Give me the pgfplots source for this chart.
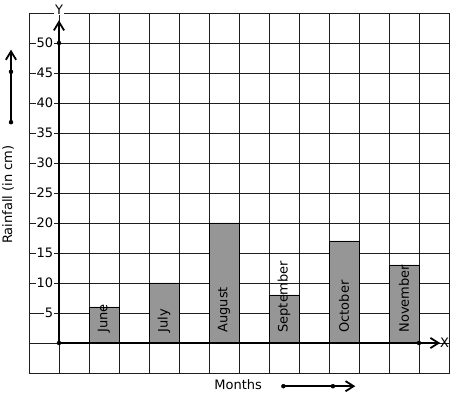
\documentclass[border=0pt]{standalone}
\usepackage{pgfplots}
\pgfplotsset{compat=1.18}
\usepackage{fontspec}
\setmainfont{DejaVu Sans}
\definecolor{bargray}{RGB}{150,150,150}
\definecolor{gridc}{RGB}{30,30,30}
\begin{document}
\begin{tikzpicture}
\useasboundingbox (0,0) rectangle (457bp,399bp);
\begin{axis}[
  at={(29bp,26bp)}, anchor=south west,
  x=30bp, y=6bp,
  xmin=-1, xmax=13, ymin=-5, ymax=55,
  xtick={-1,0,...,13}, ytick={-5,0,...,55},
  xticklabels={}, yticklabels={},
  major tick length=0pt,
  grid=major,
  grid style={draw=gridc, line width=0.9bp},
  axis line style={draw=gridc, line width=0.9bp},
  clip=false,
  font=\fontsize{13bp}{15bp}\selectfont,
]
\addplot[ybar, bar width=1, fill=bargray, draw=black, line width=0.9bp]
  coordinates {(1.5,6) (3.5,10) (5.5,20) (7.5,8) (9.5,17) (11.5,13)};
\addplot[only marks, mark=none, nodes near coords, point meta=explicit symbolic,
  every node near coord/.append style={rotate=90, anchor=west, inner sep=0pt, font=\fontsize{13bp}{15bp}\selectfont}]
  coordinates {(1.5,1.7)[June] (3.5,1.7)[July] (5.5,1.7)[August] (7.5,1.7)[September] (9.5,1.7)[October] (11.5,1.7)[November]};
\pgfplotsinvokeforeach{5,10,...,50}{
  \node[anchor=east, fill=white, inner sep=0.5bp, font=\fontsize{13bp}{15bp}\selectfont] at (axis cs:-0.17,#1) {#1};
}
\node[fill=white, inner sep=1bp] at (axis cs:0,55.6) {Y};
% y axis with arrowhead
\draw[line width=2.2bp] (axis cs:0,0) -- (axis cs:0,53.3);
\draw[line width=1.8bp, line join=miter] (axis cs:-0.17,52.1) -- (axis cs:0,53.5) -- (axis cs:0.17,52.1);
% x axis with arrowhead
\draw[line width=2.2bp] (axis cs:0,0) -- (axis cs:12.6,0);
\draw[line width=1.8bp, line join=miter] (axis cs:12.38,0.85) -- (axis cs:12.65,0) -- (axis cs:12.38,-0.85);
\addplot[only marks, mark=*, mark size=2bp] coordinates {(0,0) (0,50) (12,0)};
% left arrow
\draw[line width=1.8bp] (axis cs:-1.6,36.8) -- (axis cs:-1.6,48.4);
\draw[line width=1.8bp, line join=miter] (axis cs:-1.77,47.2) -- (axis cs:-1.6,48.6) -- (axis cs:-1.43,47.2);
\addplot[only marks, mark=*, mark size=2bp] coordinates {(-1.6,36.8) (-1.6,45.2)};
% bottom arrow
\draw[line width=1.8bp] (axis cs:7.48,-7.2) -- (axis cs:9.75,-7.2);
\draw[line width=1.8bp, line join=miter] (axis cs:9.55,-6.35) -- (axis cs:9.82,-7.2) -- (axis cs:9.55,-8.05);
\addplot[only marks, mark=*, mark size=2bp] coordinates {(7.48,-7.2) (9.13,-7.2)};
\node[anchor=west, inner sep=0pt] at (axis cs:12.7,0) {X};
\node at (axis cs:5.97,-7.0) {Months};
\node[rotate=90] at (axis cs:-1.7,24.7) {Rainfall (in cm)};
\end{axis}
\end{tikzpicture}
\end{document}
